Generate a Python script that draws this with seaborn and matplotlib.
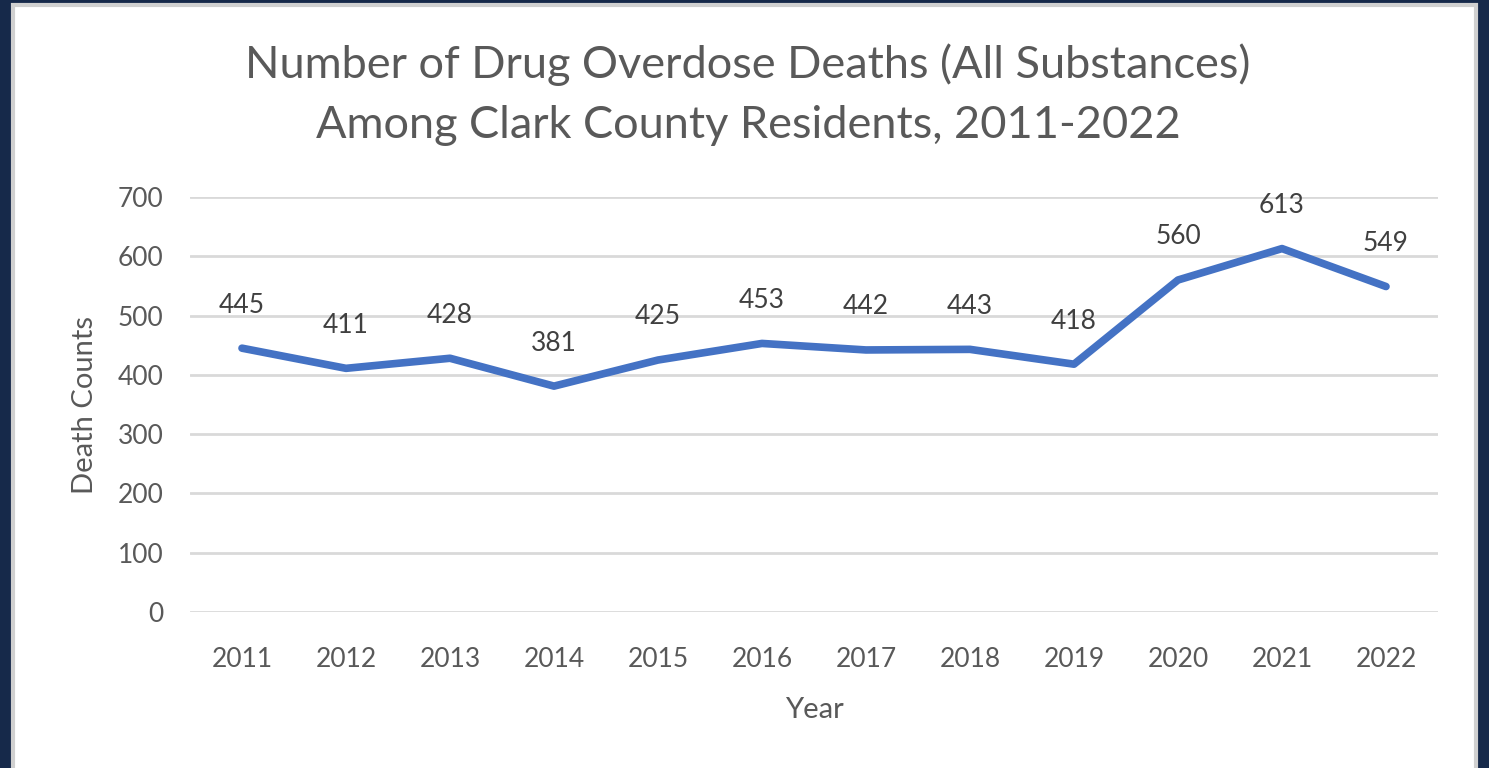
import matplotlib
matplotlib.use("Agg")
import matplotlib.pyplot as plt
import seaborn as sns
import pandas as pd
from matplotlib.patches import Rectangle

years = ["2011", "2012", "2013", "2014", "2015", "2016", "2017", "2018", "2019", "2020", "2021", "2022"]
deaths = [445, 411, 428, 381, 425, 453, 442, 443, 418, 560, 613, 549]
yticks = [0, 100, 200, 300, 400, 500, 600, 700]

sns.set_theme(style="white")
plt.rcParams['font.family'] = ['Lato', 'DejaVu Sans']

df = pd.DataFrame({"Year": years, "Deaths": deaths})

W, H = 1489, 768
fig = plt.figure(figsize=(W / 100, H / 100), dpi=100)
fig.patch.set_facecolor("#16294a")
rect = Rectangle((13 / W, -0.01), (1476 - 13) / W, 1.01 - 5 / H, transform=fig.transFigure,
                 facecolor="white", edgecolor="#d0d0d0", linewidth=3, zorder=-10)
fig.add_artist(rect)

ax = fig.add_axes([190 / W, 1 - 612 / H, (1438 - 190) / W, (612 - 197) / H])
ax.set_facecolor("none")
ax.set_zorder(1)
x = list(range(len(years)))
sns.lineplot(x=x, y=df["Deaths"], ax=ax, color="#4472C4", linewidth=5.5, zorder=3)
ax.lines[0].set_solid_capstyle("round")
ax.lines[0].set_solid_joinstyle("round")
ax.set_xlim(-0.5, len(years) - 0.5)
ax.set_ylim(0, 700)
ax.set_yticks(yticks)
ax.set_xticks(x)
ax.set_xticklabels(years)
ax.tick_params(axis="both", labelsize=19, colors="#595959", length=0)
ax.tick_params(axis="x", pad=25)
ax.tick_params(axis="y", pad=19)
ax.grid(axis="y", color="#d9d9d9", linewidth=2)
ax.set_axisbelow(True)
for s in ax.spines.values():
    s.set_visible(False)

for xi, v in zip(x, deaths):
    ax.annotate(str(v), (xi, v), xytext=(0, 31), textcoords="offset points",
                ha="center", va="center", fontsize=19, color="#404040")

ax.set_xlabel("Year", fontsize=21, color="#595959", labelpad=18)
ax.set_ylabel("Death Counts", fontsize=21, color="#595959", labelpad=14)

fig.text(748 / W, 1 - 65 / H, "Number of Drug Overdose Deaths (All Substances)", ha="center", va="center",
         fontsize=32.5, color="#595959")
fig.text(748 / W, 1 - 125 / H, "Among Clark County Residents, 2011-2022", ha="center", va="center",
         fontsize=32.5, color="#595959")

fig.savefig("out.png", dpi=100, facecolor=fig.get_facecolor())
